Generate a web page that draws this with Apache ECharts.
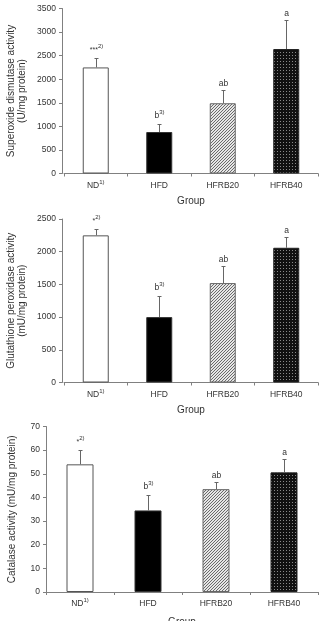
<!DOCTYPE html>
<html><head><meta charset="utf-8">
<script src="https://cdn.jsdelivr.net/npm/echarts@6/dist/echarts.min.js"></script>
<style>html,body{margin:0;padding:0;background:#fff}#c{width:319px;height:621px}</style>
</head><body><div id="c"></div>
<script>
// ---- data ----
const categories = ['ND', 'HFD', 'HFRB20', 'HFRB40'];
const categorySup = ['1)', '', '', ''];
const sodMean = [2250, 880, 1490, 2640];
const sodSD = [200, 165, 290, 610];
const gpxMean = [2250, 1000, 1520, 2060];
const gpxSD = [90, 320, 260, 170];
const catMean = [54, 34.5, 43.5, 50.6];
const catSD = [6, 6.5, 3.2, 5.5];
const sodLetters = ['***', 'b', 'ab', 'a'];
const gpxLetters = ['*', 'b', 'ab', 'a'];
const catLetters = ['*', 'b', 'ab', 'a'];
const letterSup = ['2)', '3)', '', ''];
const sodAxis = [0, 3500, 500];
const gpxAxis = [0, 2500, 500];
const catAxis = [0, 70, 10];
const yTitles = ['Superoxide dismutase activity\n(U/mg protein)', 'Glutathione peroxidase activity\n(mU/mg protein)', 'Catalase activity (mU/mg protein)'];
const xTitle = 'Group';

// ---- patterns ----
function hatch() {
  const c = document.createElement('canvas'); c.width = 3; c.height = 3;
  const g = c.getContext('2d');
  g.fillStyle = '#e6e6e6'; g.fillRect(0, 0, 3, 3);
  g.fillStyle = '#6a6a6a';
  g.fillRect(2, 0, 1, 1); g.fillRect(1, 1, 1, 1); g.fillRect(0, 2, 1, 1);
  return c;
}
function dots() {
  const c = document.createElement('canvas'); c.width = 3; c.height = 3;
  const g = c.getContext('2d');
  g.fillStyle = '#111'; g.fillRect(0, 0, 3, 3);
  g.fillStyle = '#8a8a8a'; g.fillRect(1, 1, 1, 1);
  return c;
}
const barStyles = [
  { color: '#fff', borderColor: '#555', borderWidth: 1 },
  { color: '#000', borderColor: '#333', borderWidth: 1 },
  { color: { image: hatch(), repeat: 'repeat' }, borderColor: '#666', borderWidth: 1 },
  { color: { image: dots(), repeat: 'repeat' }, borderColor: '#222', borderWidth: 1 }
];

const FONT = 'Liberation Sans, Arial, sans-serif';
const TXT = '#333';
const AX = '#808080';
const rich = {
  m: { fontSize: 8.5, fontFamily: FONT, color: TXT },
  st: { fontSize: 7, fontFamily: FONT, color: TXT },
  s: { fontSize: 6, fontFamily: FONT, color: TXT, padding: [0, 0, 7, 0] }
};
const richAxis = {
  m: { fontSize: 8.5, fontFamily: FONT, color: TXT, lineHeight: 16 },
  s: { fontSize: 6, fontFamily: FONT, color: TXT, padding: [0, 0, 7, 0] }
};

const grids = [
  { left: 64, right: 1, top: 8.5, height: 165, outerBoundsMode: 'none', containLabel: false },
  { left: 64, right: 1, top: 219, height: 163.5, outerBoundsMode: 'none', containLabel: false },
  { left: 46, right: 1, top: 426.5, height: 165.5, outerBoundsMode: 'none', containLabel: false }
];
const barW = [26, 26, 27];
const nameGaps = [34, 34, 28];
const xNameGaps = [23, 23, 25];

function labelText(main, sup) {
  const mk = /\*/.test(main) ? 'st' : 'm';
  return '{' + mk + '|' + main + '}' + (sup ? '{s|' + sup + '}' : '');
}

function errRender(letters) {
  return function (params, api) {
    const i = api.value(0);
    const base = api.coord([i, api.value(1)]);
    const top = api.coord([i, api.value(1) + api.value(2)]);
    const x = Math.round(top[0]) + 0.5;
    const yt = Math.round(top[1]) + 0.5;
    return {
      type: 'group',
      children: [
        { type: 'line', shape: { x1: x, y1: base[1], x2: x, y2: yt }, style: { stroke: '#666', lineWidth: 1 } },
        { type: 'line', shape: { x1: x - 2, y1: yt, x2: x + 2, y2: yt }, style: { stroke: '#666', lineWidth: 1 } },
        {
          type: 'text', x: x, y: yt - 2,
          style: { text: labelText(letters[i], letterSup[i]), rich: rich, align: 'center', verticalAlign: 'bottom', fill: TXT }
        }
      ]
    };
  };
}

const means = [sodMean, gpxMean, catMean];
const sds = [sodSD, gpxSD, catSD];
const letterSets = [sodLetters, gpxLetters, catLetters];
const axes = [sodAxis, gpxAxis, catAxis];

const xAxis = [], yAxis = [], series = [];
for (let k = 0; k < 3; k++) {
  xAxis.push({
    type: 'category', gridIndex: k, data: categories,
    name: xTitle, nameLocation: 'middle', nameGap: xNameGaps[k], nameMoveOverlap: false,
    nameTextStyle: { fontSize: 10, fontFamily: FONT, color: TXT },
    axisLine: { lineStyle: { color: AX, width: 1 } },
    axisTick: { show: true, length: 3, lineStyle: { color: AX } },
    axisLabel: {
      margin: 4, interval: 0,
      formatter: function (v, idx) { return labelText(v, categorySup[idx]); },
      rich: richAxis
    }
  });
  yAxis.push({
    type: 'value', gridIndex: k, min: axes[k][0], max: axes[k][1], interval: axes[k][2],
    offset: k < 2 ? 2 : 0,
    name: yTitles[k], nameLocation: 'middle', nameRotate: 90, nameGap: nameGaps[k], nameMoveOverlap: false,
    nameTextStyle: { fontSize: 10, fontFamily: FONT, color: TXT, lineHeight: 11 },
    axisLine: { show: true, lineStyle: { color: AX, width: 1 } },
    axisTick: { show: true, length: 3, lineStyle: { color: AX } },
    splitLine: { show: false },
    axisLabel: { fontSize: 8.5, fontFamily: FONT, color: TXT, margin: 6, formatter: function (v) { return String(v); } }
  });
  series.push({
    type: 'bar', xAxisIndex: k, yAxisIndex: k, barWidth: barW[k], silent: true,
    data: means[k].map((v, i) => ({ value: v, itemStyle: barStyles[i] }))
  });
  series.push({
    type: 'custom', xAxisIndex: k, yAxisIndex: k, silent: true, z: 5,
    renderItem: errRender(letterSets[k]),
    encode: { x: 0, y: 1 },
    data: means[k].map((v, i) => [i, v, sds[k][i]])
  });
}

const chart = echarts.init(document.getElementById('c'), null, { renderer: 'canvas' });
chart.setOption({
  animation: false,
  backgroundColor: '#fff',
  textStyle: { fontFamily: FONT },
  grid: grids,
  xAxis: xAxis,
  yAxis: yAxis,
  series: series
});
</script>
</body></html>
